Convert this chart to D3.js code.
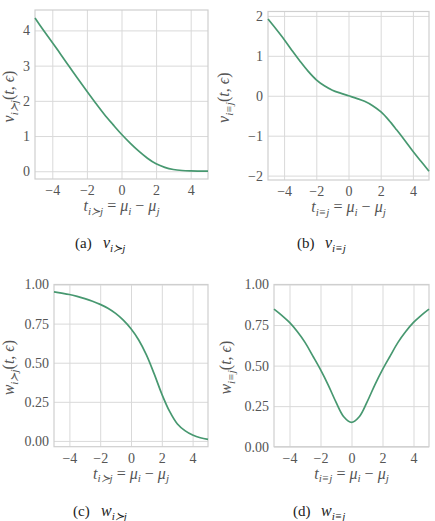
<!DOCTYPE html>
<html lang="en">
<head>
<meta charset="utf-8">
<script src="https://d3js.org/d3.v7.min.js"></script>
<style>
  body { margin: 0; background: #fff; }
  text { font-family: "Liberation Serif", "Times New Roman", "DejaVu Serif", serif; }
  .tick text { font-size: 14px; fill: #555; }
  .tick line { stroke: #d9d9d9; }
</style>
</head>
<body>
<div id="plot"></div>
<script>
const tValues = [-5, -4.5, -4, -3.5, -3, -2.5, -2, -1.5, -1, -0.5, 0, 0.5, 1, 1.5, 2, 2.5, 3, 3.5, 4, 4.5, 5];
const vWin  = [4.35, 4.0, 3.66, 3.31, 2.96, 2.61, 2.27, 1.94, 1.62, 1.33, 1.05, 0.80, 0.57, 0.37, 0.21, 0.11, 0.05, 0.022, 0.01, 0.005, 0.002];
const vDraw = [1.92, 1.67, 1.41, 1.13, 0.86, 0.61, 0.40, 0.25, 0.14, 0.065, 0.0, -0.065, -0.14, -0.25, -0.40, -0.61, -0.86, -1.12, -1.39, -1.64, -1.89];
const wWin  = [0.953, 0.945, 0.936, 0.924, 0.910, 0.893, 0.873, 0.848, 0.815, 0.772, 0.717, 0.645, 0.55, 0.43, 0.30, 0.19, 0.11, 0.066, 0.038, 0.02, 0.01];
const wDraw = [0.848, 0.81, 0.766, 0.71, 0.643, 0.56, 0.475, 0.38, 0.275, 0.185, 0.15, 0.185, 0.275, 0.38, 0.475, 0.56, 0.643, 0.71, 0.766, 0.81, 0.848];

const xTicks = [-4, -2, 0, 2, 4];
const vWinTicks = [0, 1, 2, 3, 4];
const vDrawTicks = [-2, -1, 0, 1, 2];
const wTicks = [0, 0.25, 0.5, 0.75, 1];

const lineColor = "#479870";

const panels = [
  {values: vWin,  yDomain: [-0.22, 4.58],  yTicks: vWinTicks,  fmt: d3.format("d"),   sym: "v", rel: "i≻j", letter: "(a)",
   left: 35,  right: 208, top: 10,  bottom: 179,   ylabX: 14,  capX: 75,  capY: 248},
  {values: vDraw, yDomain: [-2.11, 2.11],  yTicks: vDrawTicks, fmt: d3.format("d"),   sym: "v", rel: "i≡j", letter: "(b)",
   left: 268, right: 429, top: 11.5, bottom: 180,  ylabX: 229, capX: 297, capY: 248},
  {values: wWin,  yDomain: [-0.037, 1.0],  yTicks: wTicks,     fmt: d3.format(".2f"), sym: "w", rel: "i≻j", letter: "(c)",
   left: 54,  right: 208, top: 284.5, bottom: 446.7, ylabX: 14,  capX: 73,  capY: 516},
  {values: wDraw, yDomain: [0, 1.0],       yTicks: wTicks,     fmt: d3.format(".2f"), sym: "w", rel: "i≡j", letter: "(d)",
   left: 274, right: 429, top: 284.5, bottom: 446.7, ylabX: 231, capX: 293, capY: 516}
];

const svg = d3.select("#plot").append("svg")
  .attr("width", 435)
  .attr("height", 521);

// writes a small math string: [text, kind] with kind i = italic, r = roman, s = italic subscript
function mathText(text, parts, size) {
  let down = false;
  const shift = size * 0.22;
  parts.forEach(([str, kind]) => {
    const ts = text.append("tspan").text(str);
    if (kind === "s") {
      ts.attr("font-size", size * 0.7).attr("font-style", "italic");
      if (!down) ts.attr("dy", shift);
      down = true;
    } else {
      ts.attr("font-size", size).attr("font-style", kind === "i" ? "italic" : "normal");
      if (down) ts.attr("dy", -shift);
      down = false;
    }
  });
}

panels.forEach(p => {
  const x = d3.scaleLinear().domain([-5, 5]).range([p.left, p.right]);
  const y = d3.scaleLinear().domain(p.yDomain).range([p.bottom, p.top]);
  const g = svg.append("g");

  g.append("g")
    .attr("transform", `translate(0,${p.bottom})`)
    .call(d3.axisBottom(x).tickValues(xTicks).tickSize(-(p.bottom - p.top)).tickPadding(6).tickFormat(d3.format("d")))
    .call(a => a.select(".domain").remove());

  g.append("g")
    .attr("transform", `translate(${p.left},0)`)
    .call(d3.axisLeft(y).tickValues(p.yTicks).tickSize(-(p.right - p.left)).tickPadding(5).tickFormat(p.fmt))
    .call(a => a.select(".domain").remove());

  g.append("rect")
    .attr("x", p.left).attr("y", p.top)
    .attr("width", p.right - p.left).attr("height", p.bottom - p.top)
    .attr("fill", "none").attr("stroke", "#cfcfcf").attr("stroke-width", 1.2);

  const line = d3.line()
    .x((d, i) => x(tValues[i]))
    .y(d => y(d))
    .curve(d3.curveCatmullRom);

  g.append("path")
    .datum(p.values)
    .attr("d", line)
    .attr("fill", "none")
    .attr("stroke", lineColor)
    .attr("stroke-width", 1.7);

  // x label
  const xl = g.append("text")
    .attr("x", (p.left + p.right) / 2)
    .attr("y", p.bottom + 32)
    .attr("text-anchor", "middle")
    .attr("fill", "#555");
  mathText(xl, [["t", "i"], [p.rel, "s"], [" = ", "r"], ["μ", "i"], ["i", "s"], [" − ", "r"], ["μ", "i"], ["j", "s"]], 16);

  // y label
  const yl = g.append("text")
    .attr("transform", `translate(${p.ylabX},${(p.top + p.bottom) / 2 + 2}) rotate(-90)`)
    .attr("text-anchor", "middle")
    .attr("fill", "#555");
  mathText(yl, [[p.sym, "i"], [p.rel, "s"], ["(", "r"], ["t", "i"], [", ", "r"], ["ϵ", "i"], [")", "r"]], 16);

  // caption
  svg.append("text")
    .attr("x", p.capX).attr("y", p.capY)
    .attr("font-size", 15)
    .attr("fill", "#222")
    .text(p.letter);
  const cap = svg.append("text")
    .attr("x", p.capX + 28).attr("y", p.capY)
    .attr("fill", "#222");
  mathText(cap, [[p.sym, "i"], [p.rel, "s"]], 16);
});
</script>
</body>
</html>
